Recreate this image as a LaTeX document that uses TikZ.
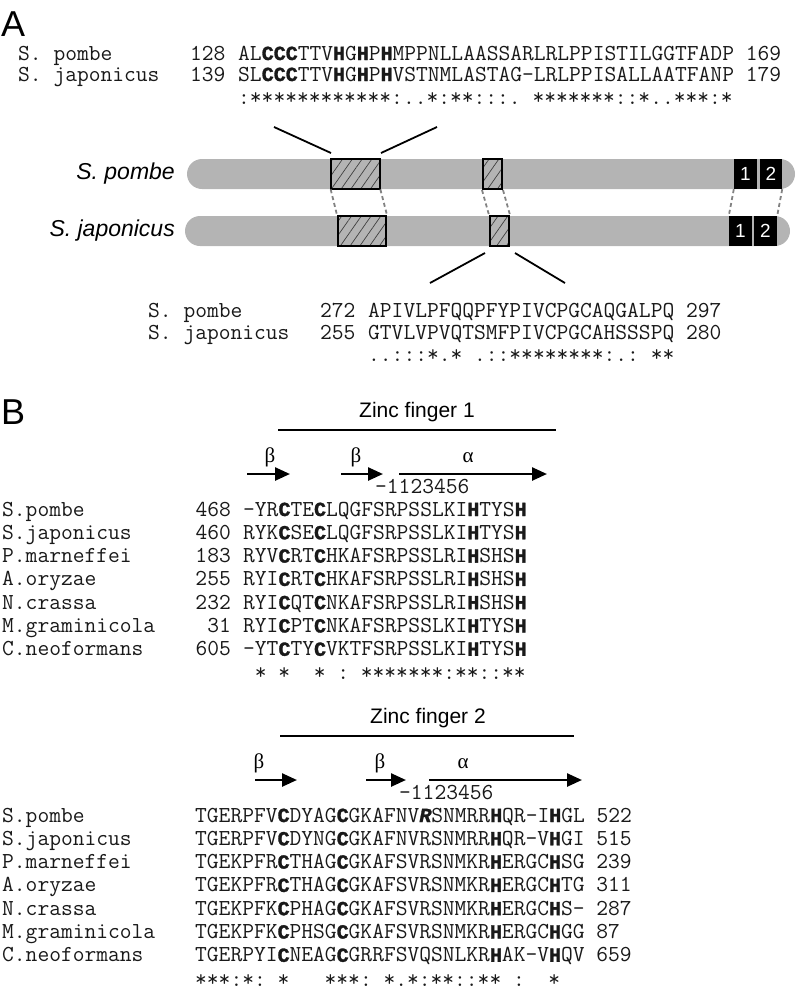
\documentclass[tikz,border=0pt]{standalone}
\usepackage{fontspec}
\setmainfont{Liberation Sans}
\newfontfamily\monoH[FakeBold=1.5]{Liberation Mono}
\newfontfamily\serifgr{Liberation Serif}
\usetikzlibrary{arrows.meta,patterns.meta}
\newcommand\bC{{\monoH\fontsize{20}{24}\selectfont\bfseries C}}
\newcommand\bH{{\monoH\fontsize{20}{24}\selectfont\bfseries H}}
\newcommand\bR{{\monoH\fontsize{20}{24}\selectfont\bfseries\itshape R}}
\definecolor{bargray}{RGB}{180,180,180}
\definecolor{dashgray}{RGB}{130,130,130}
\definecolor{txt}{RGB}{25,25,25}
\begin{document}
\begin{tikzpicture}[x=1pt,y=-1pt,
  seq/.style={anchor=base west,inner sep=0pt,text=txt,font=\ttfamily\fontsize{22.86}{26}\selectfont},
  seqr/.style={anchor=base east,inner sep=0pt,text=txt,font=\ttfamily\fontsize{22.86}{26}\selectfont},
  panel/.style={anchor=base west,inner sep=0pt,font=\fontsize{36}{40}\selectfont},
  species/.style={anchor=east,inner sep=0pt,font=\fontsize{23}{26}\selectfont\itshape},
  bar/.style={fill=bargray,rounded corners=15pt,inner sep=0pt,minimum height=30pt},
  hatchbox/.style={draw=black,line width=2pt,inner sep=0pt,minimum height=30pt,
     preaction={fill=bargray},pattern={Lines[angle=55,distance=8pt,line width=0.7pt]},pattern color=black!75},
  znbox/.style={fill=black,text=white,inner sep=0pt,minimum height=30pt,font=\fontsize{19}{20}\selectfont},
  dashcon/.style={draw=dashgray,line width=1.8pt,dash pattern=on 4pt off 3pt},
  zoomline/.style={draw=black,line width=1.8pt},
  zfline/.style={draw=black,line width=2pt},
  title/.style={anchor=base,inner sep=0pt,font=\fontsize{21}{24}\selectfont},
  greek/.style={anchor=base,inner sep=0pt,font=\serifgr\fontsize{21}{24}\selectfont},
  sarrow/.style={draw=black,line width=2.5pt,-{Triangle[length=15pt,width=13pt]}}
]
\useasboundingbox (0,0) rectangle (799,997);

% ---------------- Panel A ----------------
\node[panel] (pA) at (1,36) {A};

\node[seq] (a1n) at (18,60) {S.~pombe};
\node[seq] (a1k) at (190,60) {128};
\node[seq] (a1s) at (238,60) {AL\bC\bC\bC TTV\bH G\bH P\bH MPPNLLAASSARLRLPPISTILGGTFADP~169};
\node[seq] (a2n) at (18,81) {S.~japonicus};
\node[seq] (a2k) at (190,81) {139};
\node[seq] (a2s) at (238,81) {SL\bC\bC\bC TTV\bH G\bH P\bH VSTNMLASTAG-LRLPPISALLAATFANP~179};
\node[seq] (a3s) at (238,104) {:************:..*:**:::.~*******::*..***:*};

% bars
\node[species] (sp1) at (175,174) {S. pombe};
\node[species] (sp2) at (175,231) {S. japonicus};
\node[bar,minimum width=608pt] (bar1) at (491,174) {};
\node[bar,minimum width=605pt] (bar2) at (487.5,231) {};

\node[hatchbox,minimum width=49pt] (h1) at (355.5,174) {};
\node[hatchbox,minimum width=19pt] (h2) at (492.5,174) {};
\node[hatchbox,minimum width=48pt] (h3) at (362,231) {};
\node[hatchbox,minimum width=19pt] (h4) at (499.5,231) {};

\node[znbox,minimum width=23pt] (k1) at (745.5,174) {1};
\node[znbox,minimum width=22pt] (k2) at (771,174) {2};
\node[znbox,minimum width=23pt] (k3) at (740.5,231) {1};
\node[znbox,minimum width=23pt] (k4) at (765.5,231) {2};

\draw[dashcon] (h1.south west) -- (h3.north west);
\draw[dashcon] (h1.south east) -- (h3.north east);
\draw[dashcon] (h2.south west) -- (h4.north west);
\draw[dashcon] (h2.south east) -- (h4.north east);
\draw[dashcon] (k1.south west) -- (k3.north west);
\draw[dashcon] (k2.south east) -- (k4.north east);

% zoom lines
\coordinate (zt1) at (274,127);
\coordinate (zt2) at (331,153);
\coordinate (zt3) at (381,153);
\coordinate (zt4) at (437,127);
\draw[zoomline] (zt1) -- (zt2);
\draw[zoomline] (zt3) -- (zt4);
\coordinate (zb1) at (485,253);
\coordinate (zb2) at (430,283);
\coordinate (zb3) at (515,253);
\coordinate (zb4) at (565,283);
\draw[zoomline] (zb1) -- (zb2);
\draw[zoomline] (zb3) -- (zb4);

\node[seq] (b1n) at (148,317) {S.~pombe};
\node[seq] (b1k) at (320,317) {272};
\node[seq] (b1s) at (368,317) {APIVLPFQQPFYPIVCPGCAQGALPQ~297};
\node[seq] (b2n) at (148,339) {S.~japonicus};
\node[seq] (b2k) at (320,339) {255};
\node[seq] (b2s) at (368,339) {GTVLVPVQTSMFPIVCPGCAHSSSPQ~280};
\node[seq] (b3s) at (368,361) {..:::*.*~.::********:.:~**};

% ---------------- Panel B ----------------
\node[panel] (pB) at (1,424) {B};

% Zinc finger 1
\node[title] (t1) at (417,417) {Zinc finger 1};
\coordinate (l1a) at (278,430);
\coordinate (l1b) at (556,430);
\draw[zfline] (l1a) -- (l1b);
\node[greek] (g1a) at (270,462) {β};
\node[greek] (g1b) at (356,462) {β};
\node[greek] (g1c) at (468,462) {α};
\coordinate (r1a) at (247,474);
\coordinate (r1b) at (290,474);
\coordinate (r1c) at (341,474);
\coordinate (r1d) at (383,474);
\coordinate (r1e) at (399,474);
\coordinate (r1f) at (547,474);
\draw[sarrow] (r1a) -- (r1b);
\draw[sarrow] (r1c) -- (r1d);
\draw[sarrow] (r1e) -- (r1f);
\node[seq] (p1) at (375,493) {-1123456};

\node[seq] (c1n) at (2,516) {S.pombe};
\node[seqr] (c1k) at (231,516) {468};
\node[seq] (c1s) at (243,516) {-YR\bC TE\bC LQGFSRPSSLKI\bH TYS\bH};
\node[seq] (c2n) at (2,539.3) {S.japonicus};
\node[seqr] (c2k) at (231,539.3) {460};
\node[seq] (c2s) at (243,539.3) {RYK\bC SE\bC LQGFSRPSSLKI\bH TYS\bH};
\node[seq] (c3n) at (2,562.6) {P.marneffei};
\node[seqr] (c3k) at (231,562.6) {183};
\node[seq] (c3s) at (243,562.6) {RYV\bC RT\bC HKAFSRPSSLRI\bH SHS\bH};
\node[seq] (c4n) at (2,585.9) {A.oryzae};
\node[seqr] (c4k) at (231,585.9) {255};
\node[seq] (c4s) at (243,585.9) {RYI\bC RT\bC HKAFSRPSSLRI\bH SHS\bH};
\node[seq] (c5n) at (2,609.2) {N.crassa};
\node[seqr] (c5k) at (231,609.2) {232};
\node[seq] (c5s) at (243,609.2) {RYI\bC QT\bC NKAFSRPSSLRI\bH SHS\bH};
\node[seq] (c6n) at (2,632.5) {M.graminicola};
\node[seqr] (c6k) at (231,632.5) {31};
\node[seq] (c6s) at (243,632.5) {RYI\bC PT\bC NKAFSRPSSLKI\bH TYS\bH};
\node[seq] (c7n) at (2,655.8) {C.neoformans};
\node[seqr] (c7k) at (231,655.8) {605};
\node[seq] (c7s) at (243,655.8) {-YT\bC TY\bC VKTFSRPSSLKI\bH TYS\bH};
\node[seq] (c8s) at (243,679.1) {~*~*~~*~:~*******:**::**};

% Zinc finger 2
\node[title] (t2) at (428,723) {Zinc finger 2};
\coordinate (l2a) at (280,736);
\coordinate (l2b) at (574,736);
\draw[zfline] (l2a) -- (l2b);
\node[greek] (g2a) at (259,768) {β};
\node[greek] (g2b) at (380,768) {β};
\node[greek] (g2c) at (463,768) {α};
\coordinate (r2a) at (255,780);
\coordinate (r2b) at (297,780);
\coordinate (r2c) at (366,780);
\coordinate (r2d) at (406,780);
\coordinate (r2e) at (429,780);
\coordinate (r2f) at (582,780);
\draw[sarrow] (r2a) -- (r2b);
\draw[sarrow] (r2c) -- (r2d);
\draw[sarrow] (r2e) -- (r2f);
\node[seq] (p2) at (399,799) {-1123456};

\node[seq] (d1n) at (2,822) {S.pombe};
\node[seq] (d1s) at (195,822) {TGERPFV\bC DYAG\bC GKAFNV\bR SNMRR\bH QR-I\bH GL~522};
\node[seq] (d2n) at (2,845.3) {S.japonicus};
\node[seq] (d2s) at (195,845.3) {TGERPFV\bC DYNG\bC GKAFNVRSNMRR\bH QR-V\bH GI~515};
\node[seq] (d3n) at (2,868.6) {P.marneffei};
\node[seq] (d3s) at (195,868.6) {TGEKPFR\bC THAG\bC GKAFSVRSNMKR\bH ERGC\bH SG~239};
\node[seq] (d4n) at (2,891.9) {A.oryzae};
\node[seq] (d4s) at (195,891.9) {TGEKPFR\bC THAG\bC GKAFSVRSNMKR\bH ERGC\bH TG~311};
\node[seq] (d5n) at (2,915.2) {N.crassa};
\node[seq] (d5s) at (195,915.2) {TGEKPFK\bC PHAG\bC GKAFSVRSNMKR\bH ERGC\bH S-~287};
\node[seq] (d6n) at (2,938.5) {M.graminicola};
\node[seq] (d6s) at (195,938.5) {TGEKPFK\bC PHSG\bC GKAFSVRSNMKR\bH ERGC\bH GG~87};
\node[seq] (d7n) at (2,961.8) {C.neoformans};
\node[seq] (d7s) at (195,961.8) {TGERPYI\bC NEAG\bC GRRFSVQSNLKR\bH AK-V\bH QV~659};
\node[seq] (d8s) at (195,986) {***:*:~*~~~***:~*.*:**::**~:~~*};
\end{tikzpicture}
\end{document}
